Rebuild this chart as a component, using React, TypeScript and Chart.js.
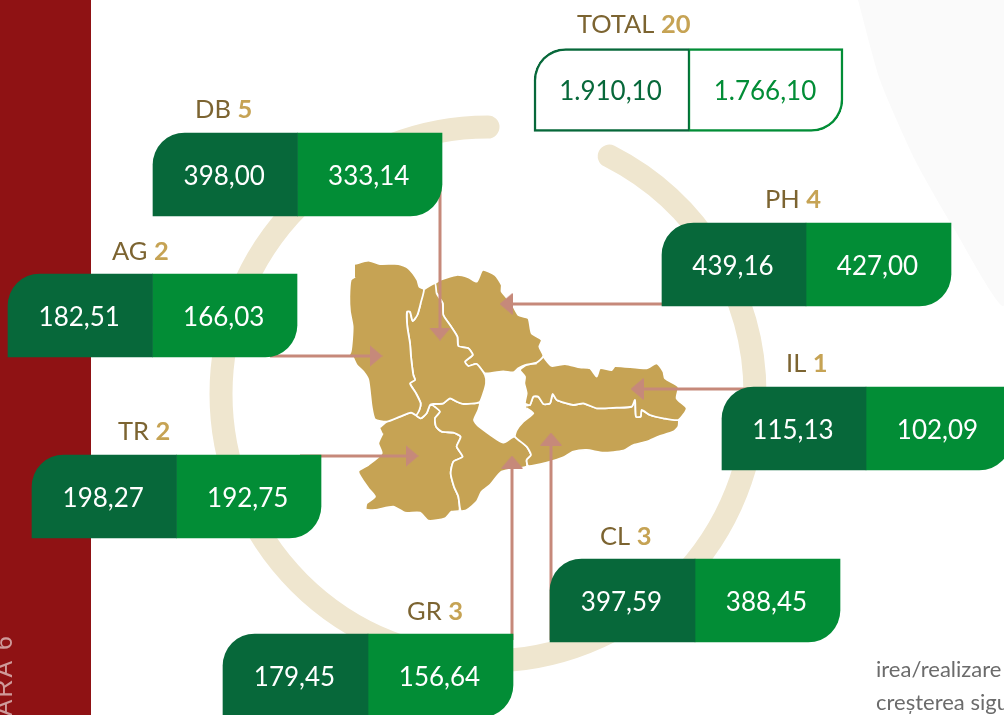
import React, { useEffect, useRef } from "react";
import { Chart, registerables } from "chart.js";

Chart.register(...registerables);

// ---------- data ----------
const regionCodes = ["DB", "AG", "TR", "GR", "CL", "IL", "PH"];
const regionCounts = [5, 2, 2, 3, 3, 1, 4];
const firstValues = [398.0, 182.51, 198.27, 179.45, 397.59, 115.13, 439.16];
const secondValues = [333.14, 166.03, 192.75, 156.64, 388.45, 102.09, 427.0];
const totalCode = "TOTAL";
const totalCount = 20;
const totalFirst = 1910.1;
const totalSecond = 1766.1;

// ---------- layout (page pixels, used as the axes' units) ----------
const WIDTH = 1004;
const HEIGHT = 715;
// order: the regions above, then the total
const boxLeft = [153, 8, 32, 223, 550, 722, 662, 534];
const boxSplit = [297.5, 152.5, 176.5, 368, 695, 866, 806, 689];
const boxRight = [442, 297, 321, 513, 840, 1011, 951, 843];
const boxCentre = [174.5, 315.5, 496.5, 675.5, 600.5, 428.5, 264.5, 90];
const captionX = [195, 112, 118, 407, 600, 786, 765, 577];
const captionY = [118, 260, 440, 620, 545, 372, 208, 33];

const arrowLines = [
  [[440, 190], [440, 334]],
  [[270, 356], [376, 356]],
  [[300, 456], [412, 456]],
  [[512, 640], [512, 462]],
  [[551, 640], [551, 439]],
  [[750, 389], [637, 389]],
  [[670, 304], [506, 304]],
];
const arrowTurn = [180, 90, 90, 0, 0, 270, 270];

const toPage = (pts: number[][]) => pts.map(([x, y]) => ({ x: 330 + x / 3, y: 240 + y / 3 }));

const countyShapes = [
  // AG
  [[75,72],[115,62],[150,72],[205,72],[235,85],[262,120],[268,140],[282,148],[272,190],[262,225],[248,243],[240,215],[231,215],[232,260],[240,310],[243,350],[250,405],[255,420],[240,430],[258,460],[272,490],[268,510],[258,525],[243,518],[210,530],[170,545],[135,538],[125,500],[115,420],[100,395],[80,375],[65,348],[42,370],[62,335],[68,260],[60,215],[58,170],[62,120],[75,110]],
  // DB
  [[282,148],[315,130],[320,160],[338,190],[340,225],[360,255],[382,290],[385,318],[415,325],[428,345],[405,365],[415,378],[440,372],[465,405],[468,430],[460,460],[448,487],[400,492],[380,485],[360,475],[340,490],[310,492],[300,495],[290,520],[272,535],[258,525],[268,510],[272,490],[258,460],[240,430],[255,420],[250,405],[243,350],[240,310],[232,260],[231,215],[240,215],[248,243],[262,225],[272,190]],
  // PH
  [[315,130],[330,120],[380,105],[415,112],[440,125],[458,90],[495,105],[515,135],[515,155],[545,190],[565,225],[595,235],[605,280],[635,300],[628,320],[640,348],[620,368],[585,375],[565,385],[550,397],[520,394],[465,400],[440,372],[415,378],[405,365],[428,345],[415,325],[385,318],[382,290],[360,255],[340,225],[338,190],[320,160]],
  // IL
  [[640,350],[665,378],[705,372],[750,382],[780,385],[800,410],[810,385],[845,390],[855,378],[950,385],[980,370],[1000,395],[1005,415],[1045,440],[1040,475],[1070,505],[1045,540],[1000,535],[960,525],[935,510],[932,530],[918,530],[915,480],[905,500],[860,503],[800,505],[760,490],[730,495],[680,480],[668,462],[660,490],[640,492],[625,470],[610,470],[600,495],[585,490],[590,460],[583,430],[585,410],[570,390],[590,375],[620,370]],
  // CL
  [[588,497],[600,495],[610,470],[625,470],[640,492],[660,490],[668,462],[680,480],[730,495],[760,490],[800,505],[860,503],[905,500],[915,480],[918,530],[932,530],[935,510],[960,525],[1000,535],[1045,540],[1045,560],[1030,575],[985,590],[950,605],[910,615],[880,632],[820,638],[770,630],[730,635],[700,652],[650,668],[595,678],[590,660],[603,645],[590,620],[555,590],[560,570],[580,545],[610,520],[590,505]],
  // GR
  [[312,492],[340,490],[360,475],[380,485],[400,492],[448,487],[445,510],[432,540],[445,558],[520,608],[553,590],[590,620],[603,645],[590,660],[590,680],[515,695],[480,735],[455,755],[440,785],[410,810],[392,812],[385,770],[372,740],[362,700],[370,665],[398,650],[380,620],[392,590],[370,578],[335,575],[318,560],[315,535],[330,515],[312,498]],
  // TR
  [[150,562],[170,545],[210,530],[243,518],[258,525],[272,535],[290,520],[300,495],[312,498],[330,515],[315,535],[318,560],[335,575],[370,578],[392,590],[380,620],[398,650],[370,665],[362,700],[372,740],[385,770],[388,812],[365,815],[345,835],[295,842],[270,818],[225,818],[190,800],[135,810],[108,808],[110,790],[135,770],[115,745],[85,695],[115,675],[155,640],[145,610],[158,580]],
];

const redBand = [[0, 0], [91, 0], [91, 715], [0, 715]];
const paleShape = [[858, 0], [880, 80], [915, 160], [953, 227], [1004, 305], [1004, 0]];
const ring = { x: 488, y: 394, r: 267, from: -90, to: -63 };

// ---------- colours ----------
const DARK = "#07683a";
const LIGHT = "#028d36";
const GOLD = "#c6a354";
const BROWN = "#7c6431";
const ARROW = "#c6897a";
const FONT = "Lato, Carlito, sans-serif";

const formatValue = (v: number) => {
  const [whole, frac] = v.toFixed(2).split(".");
  return whole.replace(/\B(?=(\d{3})+$)/g, ".") + "," + frac;
};

const makeArrowHead = () => {
  const c = document.createElement("canvas");
  c.width = 22;
  c.height = 13;
  const g = c.getContext("2d")!;
  g.fillStyle = ARROW;
  g.beginPath();
  g.moveTo(11, 0);
  g.lineTo(22, 13);
  g.lineTo(0, 13);
  g.closePath();
  g.fill();
  return c;
};

const decorPlugin = {
  id: "decor",
  beforeDatasetsDraw(chart: any) {
    const { ctx, scales } = chart;
    ctx.save();
    ctx.strokeStyle = "#efe6cf";
    ctx.lineWidth = 23;
    ctx.lineCap = "round";
    ctx.beginPath();
    ctx.arc(
      scales.x.getPixelForValue(ring.x),
      scales.y.getPixelForValue(ring.y),
      ring.r,
      (ring.from * Math.PI) / 180,
      (ring.to * Math.PI) / 180,
      true
    );
    ctx.stroke();
    ctx.restore();
  },
  afterDatasetsDraw(chart: any) {
    const { ctx, scales } = chart;
    const px = (v: number) => scales.x.getPixelForValue(v);
    const py = (v: number) => scales.y.getPixelForValue(v);
    const firstMeta = chart.getDatasetMeta(0);
    const secondMeta = chart.getDatasetMeta(1);
    ctx.save();
    ctx.textBaseline = "middle";
    ctx.textAlign = "center";
    ctx.font = `26px ${FONT}`;
    const values = [[...firstValues, totalFirst], [...secondValues, totalSecond]];
    [firstMeta, secondMeta].forEach((meta: any, s: number) => {
      meta.data.forEach((bar: any, i: number) => {
        const c = bar.getCenterPoint();
        ctx.fillStyle = i === regionCodes.length ? (s === 0 ? DARK : LIGHT) : "#ffffff";
        ctx.fillText(formatValue(values[s][i]), c.x - 1, c.y + 2);
      });
    });
    // captions
    ctx.textAlign = "left";
    ctx.textBaseline = "alphabetic";
    const codes = [...regionCodes, totalCode];
    const counts = [...regionCounts, totalCount];
    codes.forEach((code, i) => {
      ctx.font = `25.5px ${FONT}`;
      ctx.fillStyle = BROWN;
      const text = code + " ";
      ctx.fillText(text, px(captionX[i]), py(captionY[i]));
      const w = ctx.measureText(text).width;
      ctx.font = `bold 25.5px ${FONT}`;
      ctx.fillStyle = GOLD;
      ctx.fillText(String(counts[i]), px(captionX[i]) + w, py(captionY[i]));
    });
    // page fragments around the figure
    ctx.font = `22px ${FONT}`;
    ctx.fillStyle = "#6b6b6b";
    ctx.fillText("irea/realizare", px(876), py(677));
    ctx.fillText("creșterea sigu", px(876), py(710));
    ctx.translate(px(12), py(634));
    ctx.rotate(-Math.PI / 2);
    ctx.font = '25px "Liberation Sans", Arial, sans-serif';
    ctx.fillStyle = "#cf9a9a";
    ctx.textAlign = "right";
    (ctx as any).letterSpacing = "2px";
    ctx.fillText("ARA 6", 0, 0);
    ctx.restore();
  },
};

export default function App() {
  const ref = useRef<HTMLCanvasElement | null>(null);

  useEffect(() => {
    document.body.style.margin = "0";
    const head = makeArrowHead();
    const n = regionCodes.length;
    const allRows = boxCentre;
    const totalFlag = (i: number) => i === n;

    const chart = new Chart(ref.current as HTMLCanvasElement, {
      type: "bar",
      data: {
        datasets: [
          {
            type: "bar",
            indexAxis: "y",
            stack: "box",
            order: 1,
            barThickness: 83,
            borderSkipped: false,
            data: allRows.map((y, i) => ({ x: [boxLeft[i], boxSplit[i]], y })),
            backgroundColor: allRows.map((_, i) => (totalFlag(i) ? "#ffffff" : DARK)),
            borderColor: DARK,
            borderWidth: (c: any) =>
              totalFlag(c.dataIndex) ? { top: 2.5, left: 2.5, bottom: 2.5, right: 1.5 } : 0,
            borderRadius: { topLeft: 32, topRight: 0, bottomLeft: 0, bottomRight: 0 },
          },
          {
            type: "bar",
            indexAxis: "y",
            stack: "box",
            order: 1,
            barThickness: 83,
            borderSkipped: false,
            data: allRows.map((y, i) => ({ x: [boxSplit[i], boxRight[i]], y })),
            backgroundColor: allRows.map((_, i) => (totalFlag(i) ? "#ffffff" : LIGHT)),
            borderColor: LIGHT,
            borderWidth: (c: any) =>
              totalFlag(c.dataIndex) ? { top: 2.5, left: 1.5, bottom: 2.5, right: 2.5 } : 0,
            borderRadius: { topLeft: 0, topRight: 0, bottomLeft: 0, bottomRight: 32 },
          },
          ...arrowLines.map((line, i) => ({
            type: "scatter",
            order: 2,
            showLine: true,
            data: line.map(([x, y]) => ({ x, y })),
            borderColor: ARROW,
            borderWidth: 3,
            pointStyle: [false, head],
            pointRadius: [0, 11],
            pointRotation: [0, arrowTurn[i]],
            pointBorderWidth: 0,
          })),
          ...countyShapes.map((shape) => ({
            type: "scatter",
            order: 3,
            showLine: true,
            fill: "shape",
            tension: 0.2,
            data: toPage(shape),
            backgroundColor: "#c6a354",
            borderColor: "#ffffff",
            borderWidth: 1.8,
            pointRadius: 0,
          })),
          {
            type: "scatter",
            order: 5,
            showLine: true,
            fill: "shape",
            data: redBand.map(([x, y]) => ({ x, y })),
            backgroundColor: "#8f1214",
            borderWidth: 0,
            pointRadius: 0,
          },
          {
            type: "scatter",
            order: 5,
            showLine: true,
            fill: "shape",
            tension: 0.2,
            data: paleShape.map(([x, y]) => ({ x, y })),
            backgroundColor: "#fafafa",
            borderWidth: 0,
            pointRadius: 0,
          },
        ],
      } as any,
      options: {
        animation: false,
        responsive: false,
        events: [],
        layout: { padding: 0, autoPadding: false },
        plugins: { legend: { display: false }, tooltip: { enabled: false } },
        scales: {
          x: { type: "linear", display: false, min: 0, max: WIDTH, offset: false, stacked: false },
          y: { type: "linear", display: false, min: 0, max: HEIGHT, reverse: true, offset: false },
        },
      } as any,
      plugins: [decorPlugin],
    });
    return () => chart.destroy();
  }, []);

  return <canvas ref={ref} width={WIDTH} height={HEIGHT} style={{ display: "block" }} />;
}
